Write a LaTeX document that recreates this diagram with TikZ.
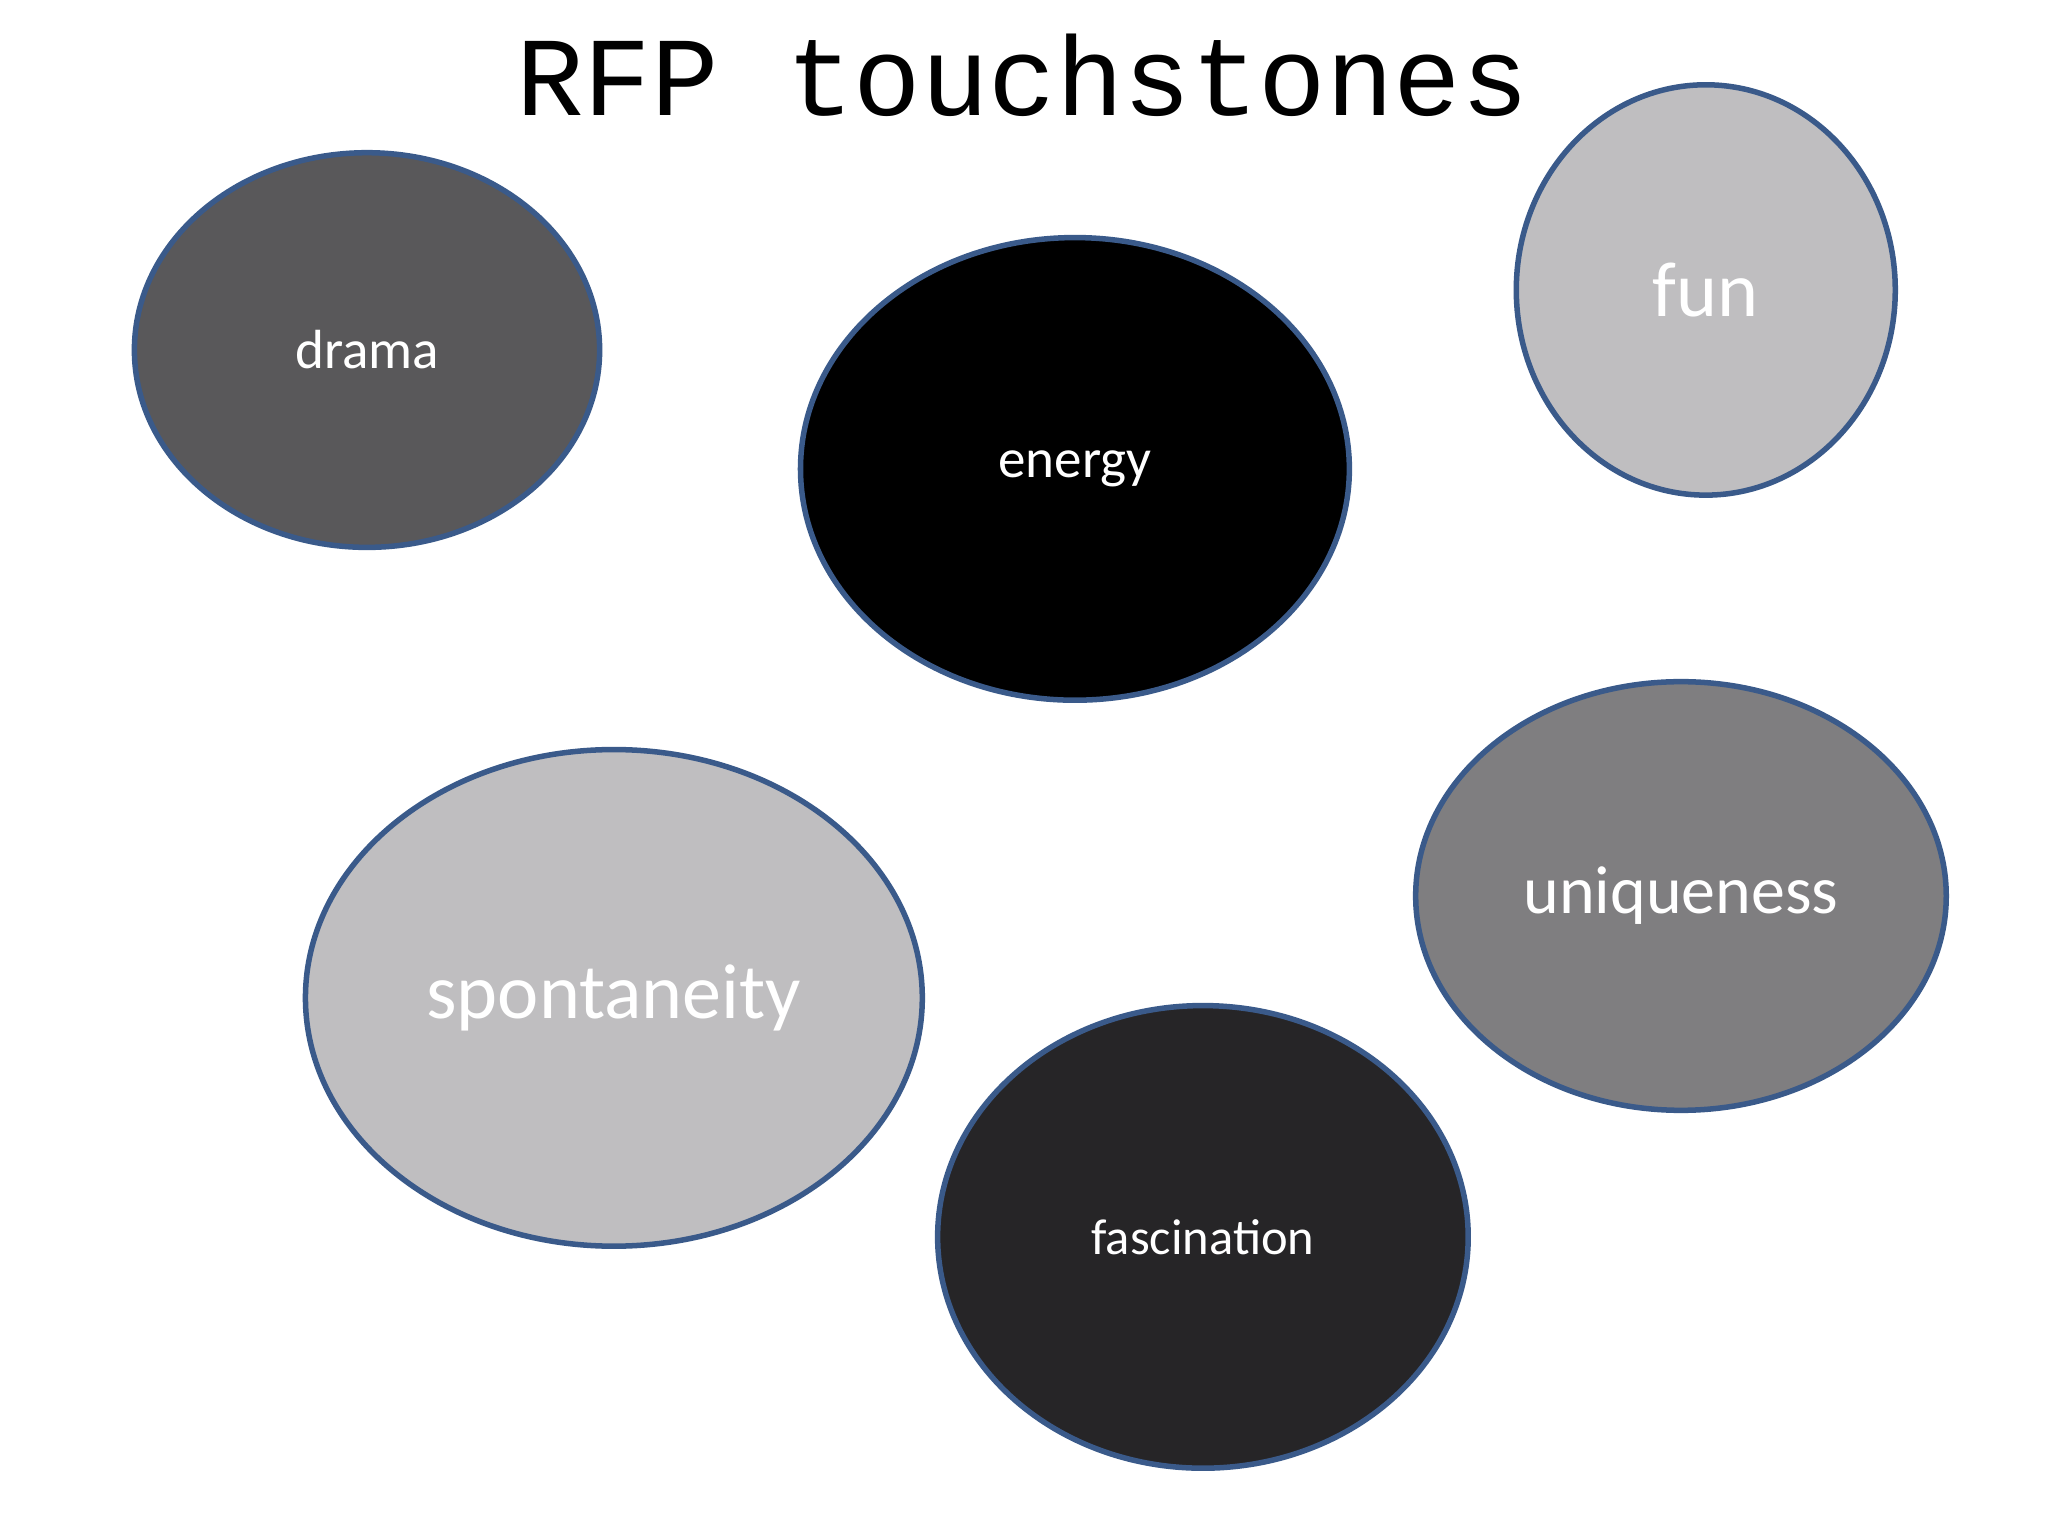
\documentclass[tikz,border=0pt]{standalone}
\usepackage{fontspec}
\setmainfont{Carlito}
\newfontfamily\titlefont{Liberation Mono}
\usetikzlibrary{shapes.geometric}
\definecolor{edge}{HTML}{3A5A8A}
\definecolor{cdrama}{HTML}{59585A}
\definecolor{clight}{HTML}{BFBEC0}
\definecolor{cmid}{HTML}{7F7E80}
\definecolor{cdark}{HTML}{262527}
\tikzset{
  blob/.style={draw=edge, line width=1.2pt, ellipse, inner sep=0pt, text=white},
}
\begin{document}
\begin{tikzpicture}[x=0.01cm,y=-0.01cm]
\useasboundingbox[fill=white] (0,0) rectangle (1568,1176);
\node[font=\titlefont\fontsize{24.5pt}{28pt}\selectfont] (title) at (783,58) {RFP touchstones};
\node[blob, fill=cdrama, minimum width=3.56cm, minimum height=3.02cm, font=\fontsize{12pt}{14pt}\selectfont] (drama) at (281,268) {drama};
\node[blob, fill=black, minimum width=4.2cm, minimum height=3.54cm, font=\fontsize{12pt}{14pt}\selectfont] (energy) at (823,359) {energy};
\node[blob, fill=clight, minimum width=2.9cm, minimum height=3.14cm, font=\fontsize{17pt}{20pt}\selectfont] (fun) at (1306,222) {fun};
\node[blob, fill=clight, minimum width=4.72cm, minimum height=3.8cm, font=\fontsize{17pt}{20pt}\selectfont] (spont) at (470,764) {spontaneity};
\node[blob, fill=cmid, minimum width=4.06cm, minimum height=3.28cm, font=\fontsize{14.8pt}{18pt}\selectfont] (uniq) at (1287,686) {uniqueness};
\node[blob, fill=cdark, minimum width=4.06cm, minimum height=3.54cm, font=\fontsize{11pt}{13pt}\selectfont] (fasc) at (921,947) {fascination};
\end{tikzpicture}
\end{document}
